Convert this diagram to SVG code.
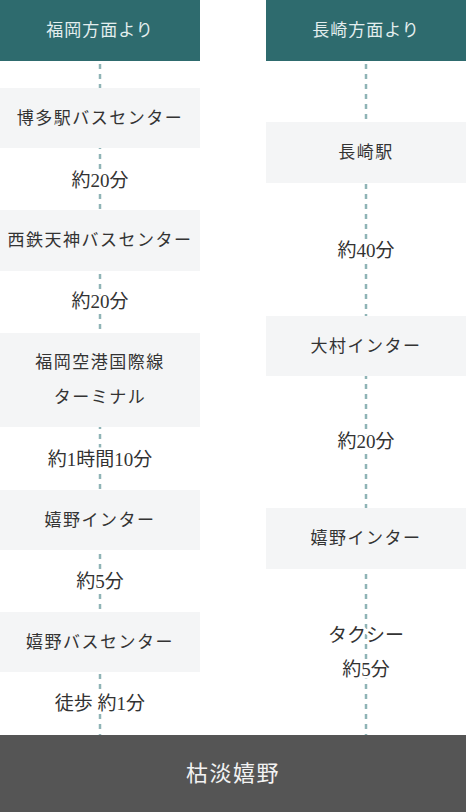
<svg xmlns="http://www.w3.org/2000/svg" width="466" height="812" viewBox="0 0 466 812">
<style>
.hdr{fill:#2e6b6e}
.box{fill:#f4f5f6}
.ht{font-family:"Liberation Serif","Noto Sans CJK JP",serif;font-size:17px;fill:#e3eeee;text-anchor:middle;letter-spacing:1px}
.bt{font-family:"Liberation Serif","Noto Sans CJK JP",serif;font-size:17px;fill:#333;text-anchor:middle;letter-spacing:1.5px}
.lt{font-family:"Liberation Serif","Noto Sans CJK JP",serif;font-size:19px;fill:#333;text-anchor:middle;stroke:#fff;stroke-width:5px;stroke-linejoin:round;paint-order:stroke}
.ft{font-family:"Liberation Serif","Noto Sans CJK JP",serif;font-size:22px;fill:#f2f2f2;text-anchor:middle;letter-spacing:1.5px}
.dash{stroke:#8fb4b6;stroke-width:2.5;stroke-dasharray:5 5;fill:none}
</style>
<g id="connectors">
<line class="dash" x1="100" y1="64" x2="100" y2="735"/>
<line class="dash" x1="366" y1="64" x2="366" y2="735"/>
</g>
<g id="h-fukuoka"><rect class="hdr" x="0" y="0" width="200" height="61"/><text class="ht" x="100" y="36">福岡方面より</text></g>
<g id="h-nagasaki"><rect class="hdr" x="266" y="0" width="200" height="61"/><text class="ht" x="366" y="36">長崎方面より</text></g>
<g id="n-hakata"><rect class="box" x="0" y="88" width="200" height="60"/><text class="bt" x="100" y="124">博多駅バスセンター</text></g>
<g id="n-tenjin"><rect class="box" x="0" y="210" width="200" height="61"/><text class="bt" x="100" y="246">西鉄天神バスセンター</text></g>
<g id="n-airport"><rect class="box" x="0" y="333" width="200" height="94"/><text class="bt" x="100" y="368">福岡空港国際線</text><text class="bt" x="100" y="403">ターミナル</text></g>
<g id="n-ureshino-ic-l"><rect class="box" x="0" y="490" width="200" height="60"/><text class="bt" x="100" y="526">嬉野インター</text></g>
<g id="n-ureshino-bus"><rect class="box" x="0" y="612" width="200" height="60"/><text class="bt" x="100" y="648">嬉野バスセンター</text></g>
<g id="n-nagasaki"><rect class="box" x="266" y="122" width="200" height="61"/><text class="bt" x="366" y="158">長崎駅</text></g>
<g id="n-omura"><rect class="box" x="266" y="316" width="200" height="60"/><text class="bt" x="366" y="352">大村インター</text></g>
<g id="n-ureshino-ic-r"><rect class="box" x="266" y="508" width="200" height="61"/><text class="bt" x="366" y="544">嬉野インター</text></g>
<g id="labels">
<text class="lt" x="100" y="187">約20分</text>
<text class="lt" x="100" y="308">約20分</text>
<text class="lt" x="100" y="466">約1時間10分</text>
<text class="lt" x="100" y="588">約5分</text>
<text class="lt" x="100" y="710">徒歩 約1分</text>
<text class="lt" x="366" y="257">約40分</text>
<text class="lt" x="366" y="448">約20分</text>
<text class="lt" x="366" y="642">タクシー</text>
<text class="lt" x="366" y="676">約5分</text>
</g>
<g id="n-kotan"><rect x="0" y="735" width="466" height="77" fill="#555"/><text class="ft" x="233" y="781">枯淡嬉野</text></g>
</svg>
